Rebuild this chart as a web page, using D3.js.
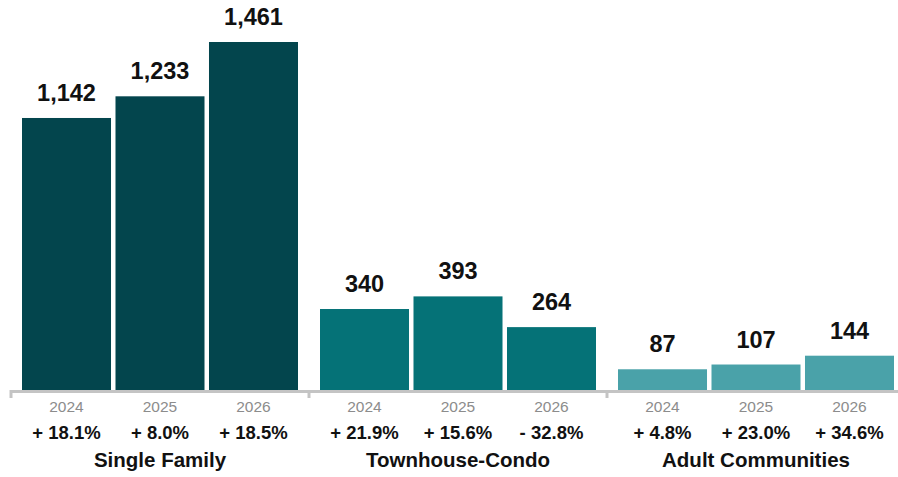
<!DOCTYPE html>
<html>
<head>
<meta charset="utf-8">
<script src="https://cdn.jsdelivr.net/npm/d3@7"></script>
<style>
  html, body { margin: 0; padding: 0; background: #fff; }
  svg { display: block; }
  text { font-family: "Liberation Sans", Arial, Helvetica, sans-serif; }
</style>
</head>
<body>
<svg id="chart" width="898" height="477"></svg>
<script>
const groups = ["Single Family", "Townhouse-Condo", "Adult Communities"];
const years = ["2024", "2025", "2026"];
const singleFamily = [1142, 1233, 1461];
const townhouseCondo = [340, 393, 264];
const adultCommunities = [87, 107, 144];
const singleFamilyChange = ["+ 18.1%", "+ 8.0%", "+ 18.5%"];
const townhouseCondoChange = ["+ 21.9%", "+ 15.6%", "- 32.8%"];
const adultCommunitiesChange = ["+ 4.8%", "+ 23.0%", "+ 34.6%"];
const groupColors = ["#03454D", "#057277", "#4AA2A9"];

const seriesValues = [singleFamily, townhouseCondo, adultCommunities];
const seriesChange = [singleFamilyChange, townhouseCondoChange, adultCommunitiesChange];

const data = [];
groups.forEach((g, gi) => {
  years.forEach((y, yi) => {
    data.push({ group: g, gi, year: y, value: seriesValues[gi][yi], change: seriesChange[gi][yi] });
  });
});

const svg = d3.select("#chart");
const baseline = 390;

const x0 = d3.scaleBand().domain(groups).range([11, 905]).padding(0);
const x1 = d3.scaleBand().domain(years).range([11, x0.bandwidth() - 11]).paddingInner(0.048).paddingOuter(0);
const y = d3.scaleLinear().domain([0, d3.max(data, d => d.value)]).range([baseline, 42]);

const g = svg.append("g");

// bars
g.selectAll("rect.bar").data(data).join("rect")
  .attr("class", "bar")
  .attr("x", d => x0(d.group) + x1(d.year))
  .attr("y", d => y(d.value))
  .attr("width", x1.bandwidth())
  .attr("height", d => baseline - y(d.value))
  .attr("fill", d => groupColors[d.gi]);

// value labels
g.selectAll("text.val").data(data).join("text")
  .attr("class", "val")
  .attr("x", d => x0(d.group) + x1(d.year) + x1.bandwidth() / 2)
  .attr("y", d => y(d.value) - 17)
  .attr("text-anchor", "middle")
  .attr("font-size", 23.5)
  .attr("font-weight", "bold")
  .attr("fill", "#111")
  .text(d => d3.format(",")(d.value));

// axis line
g.append("line")
  .attr("x1", 11).attr("x2", 898)
  .attr("y1", baseline + 1.5).attr("y2", baseline + 1.5)
  .attr("stroke", "#c4c4c4").attr("stroke-width", 3);

// group boundary ticks
const tickXs = groups.map(gr => x0(gr)).concat([x0(groups[groups.length - 1]) + x0.bandwidth()]);
g.selectAll("line.tick").data(tickXs).join("line")
  .attr("class", "tick")
  .attr("x1", d => d).attr("x2", d => d)
  .attr("y1", baseline).attr("y2", baseline + 8)
  .attr("stroke", "#c4c4c4").attr("stroke-width", 3);

// year labels
g.selectAll("text.year").data(data).join("text")
  .attr("class", "year")
  .attr("x", d => x0(d.group) + x1(d.year) + x1.bandwidth() / 2)
  .attr("y", 411.5)
  .attr("text-anchor", "middle")
  .attr("font-size", 15.5)
  .attr("fill", "#8c8c8c")
  .text(d => d.year);

// change labels
g.selectAll("text.chg").data(data).join("text")
  .attr("class", "chg")
  .attr("x", d => x0(d.group) + x1(d.year) + x1.bandwidth() / 2)
  .attr("y", 439)
  .attr("text-anchor", "middle")
  .attr("font-size", 18.5)
  .attr("font-weight", "bold")
  .attr("fill", "#111")
  .text(d => d.change);

// group labels
g.selectAll("text.grp").data(groups).join("text")
  .attr("class", "grp")
  .attr("x", d => x0(d) + x0.bandwidth() / 2)
  .attr("y", 467)
  .attr("text-anchor", "middle")
  .attr("font-size", 20.5)
  .attr("font-weight", "bold")
  .attr("fill", "#111")
  .text(d => d);
</script>
</body>
</html>
